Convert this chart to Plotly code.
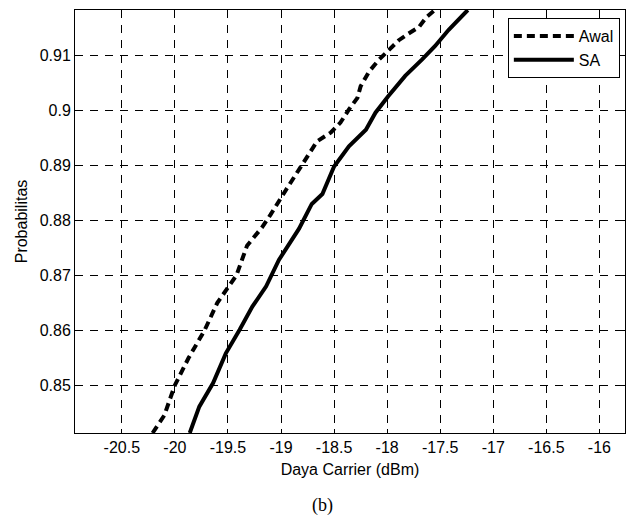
import plotly.graph_objects as go

# Awal (dashed)
awal_x = [-20.21, -20.10, -20.00, -19.87, -19.72, -19.60, -19.42, -19.32, -19.18, -19.10,
          -18.955, -18.86, -18.74, -18.66, -18.53, -18.44, -18.36, -18.28, -18.25, -18.17,
          -18.08, -18.00, -17.89, -17.80, -17.70, -17.63, -17.55]
awal_y = [0.8413, 0.8445, 0.8500, 0.8550, 0.8600, 0.8650, 0.8700, 0.8754, 0.8787, 0.8810,
          0.8855, 0.8884, 0.8922, 0.8944, 0.8960, 0.8978, 0.9002, 0.9023, 0.9044, 0.9071,
          0.9092, 0.9108, 0.9128, 0.9140, 0.9152, 0.9170, 0.9183]

# SA (solid)
sa_x = [-19.86, -19.77, -19.64, -19.52, -19.39, -19.27, -19.14, -19.02, -18.93, -18.83,
        -18.71, -18.61, -18.50, -18.36, -18.20, -18.11, -17.99, -17.83, -17.67, -17.55,
        -17.42, -17.27, -17.24]
sa_y = [0.8413, 0.8461, 0.8504, 0.8558, 0.8601, 0.8643, 0.8680, 0.8728, 0.8755, 0.8785,
        0.8830, 0.8848, 0.8898, 0.8935, 0.8965, 0.8996, 0.9026, 0.9063, 0.9093, 0.9117,
        0.9147, 0.9177, 0.9183]

x_ticks = [-20.5, -20, -19.5, -19, -18.5, -18, -17.5, -17, -16.5, -16]
x_labels = ["-20.5", "-20", "-19.5", "-19", "-18.5", "-18", "-17.5", "-17", "-16.5", "-16"]
y_ticks = [0.85, 0.86, 0.87, 0.88, 0.89, 0.90, 0.91]
y_labels = ["0.85", "0.86", "0.87", "0.88", "0.89", "0.9", "0.91"]

fig = go.Figure()
fig.add_trace(go.Scatter(x=awal_x, y=awal_y, mode="lines", name="Awal",
                         line=dict(color="black", width=4, dash="8px,5px")))
fig.add_trace(go.Scatter(x=sa_x, y=sa_y, mode="lines", name="SA",
                         line=dict(color="black", width=4)))

font = dict(family="Liberation Sans, Arial, sans-serif", size=16, color="black")

fig.update_layout(
    width=631, height=517,
    margin=dict(l=75, r=6, t=10, b=84),
    paper_bgcolor="white", plot_bgcolor="white",
    font=font,
    showlegend=True,
    legend=dict(x=0.787, y=0.981, xanchor="left", yanchor="top",
                bordercolor="black", borderwidth=1, bgcolor="white",
                font=font, tracegroupgap=0, itemwidth=60),
    xaxis=dict(range=[-20.941, -15.759], tickvals=x_ticks, ticktext=x_labels,
               showgrid=True, gridcolor="black", gridwidth=1, griddash="8px,7px",
               zeroline=False, showline=True, linecolor="black", linewidth=1,
               mirror="ticks", ticks="inside", ticklen=4, tickcolor="black",
               title=dict(text="Daya Carrier (dBm)", font=font, standoff=8)),
    yaxis=dict(range=[0.8413, 0.9183], tickvals=y_ticks, ticktext=y_labels,
               showgrid=True, gridcolor="black", gridwidth=1, griddash="8px,7px",
               zeroline=False, showline=True, linecolor="black", linewidth=1,
               mirror="ticks", ticks="inside", ticklen=4, tickcolor="black",
               title=dict(text="Probabilitas", font=font, standoff=8)),
    annotations=[dict(text="(b)", xref="paper", yref="paper", x=(322 - 75) / 550,
                      y=-(505 - 433) / 423, xanchor="center", yanchor="middle",
                      showarrow=False,
                      font=dict(family="Liberation Serif, Times New Roman, serif", size=18, color="black"))],
)

fig.write_html("out.html")
